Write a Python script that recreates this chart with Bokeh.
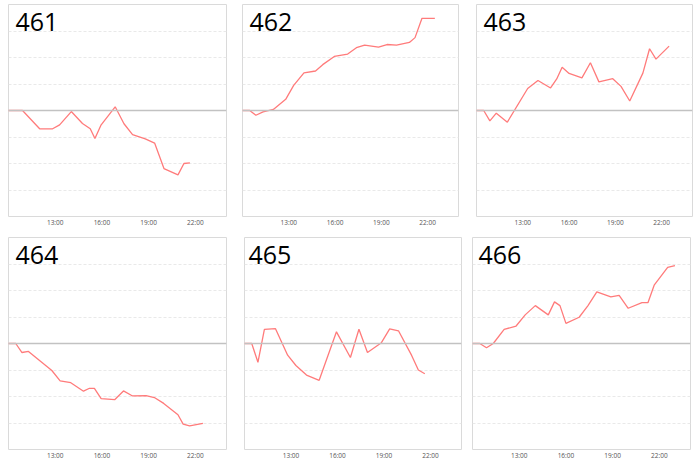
from bokeh.plotting import figure
from bokeh.layouts import row, column
from bokeh.models import Range1d, FixedTicker, Span, Label
from bokeh.embed import file_html
from bokeh.resources import INLINE

# ---------------- data ----------------
panel_names = ["461", "462", "463", "464", "465", "466"]

times_461 = ["10:00", "10:54", "12:00", "12:50", "13:17", "14:02", "14:45", "15:15", "15:33",
             "15:57", "16:51", "17:25", "17:58", "18:47", "19:23", "19:59", "20:53", "21:16", "21:39"]
values_461 = [0, 0, -0.69, -0.69, -0.54, -0.04, -0.49, -0.69, -1.06,
              -0.54, 0.14, -0.50, -0.91, -1.07, -1.23, -2.19, -2.43, -2.00, -1.98]

times_462 = ["10:00", "10:28", "10:52", "11:20", "12:00", "12:48", "13:19", "13:59", "14:44", "15:12",
             "15:57", "16:49", "17:23", "17:55", "18:49", "19:22", "19:59", "20:49", "21:11", "21:38", "22:28"]
values_462 = [0, 0, -0.18, -0.05, 0.04, 0.42, 0.95, 1.42, 1.49, 1.73,
              2.04, 2.13, 2.37, 2.47, 2.39, 2.49, 2.47, 2.57, 2.75, 3.48, 3.48]

times_463 = ["10:00", "10:28", "10:52", "11:17", "12:00", "13:19", "13:59", "14:48", "15:12", "15:33",
             "16:00", "16:50", "17:23", "17:56", "18:50", "19:22", "19:56", "20:47", "21:13", "21:38", "22:29"]
values_463 = [0, 0, -0.39, -0.10, -0.44, 0.83, 1.13, 0.85, 1.19, 1.63,
              1.40, 1.23, 1.80, 1.08, 1.20, 0.91, 0.36, 1.41, 2.33, 1.94, 2.43]

times_464 = ["10:00", "10:28", "10:52", "11:17", "12:02", "12:47", "13:19", "14:00", "14:49", "15:12", "15:31",
             "15:57", "16:49", "17:23", "17:58", "18:50", "19:22", "19:58", "20:53", "21:13", "21:38", "22:29"]
values_464 = [0, 0, -0.34, -0.30, -0.66, -1.02, -1.41, -1.48, -1.80, -1.69, -1.69,
              -2.08, -2.12, -1.79, -1.98, -1.97, -2.04, -2.26, -2.69, -3.04, -3.11, -3.01]

times_465 = ["10:00", "10:28", "10:52", "11:17", "12:00", "12:47", "13:19", "14:00", "14:49", "15:56",
             "16:50", "17:23", "17:56", "18:50", "19:22", "19:56", "20:47", "21:13", "21:38"]
values_465 = [0, 0, -0.71, 0.53, 0.56, -0.44, -0.83, -1.19, -1.39, 0.44,
              -0.53, 0.54, -0.34, 0.03, 0.55, 0.48, -0.45, -1.00, -1.14]

times_466 = ["10:00", "10:28", "10:54", "11:20", "12:02", "12:48", "13:23", "14:02", "14:52", "15:16", "15:37",
             "16:00", "16:51", "17:25", "17:59", "18:53", "19:25", "20:00", "20:53", "21:16", "21:40", "22:32", "23:00"]
values_466 = [0, 0, -0.16, 0, 0.53, 0.66, 1.08, 1.43, 1.08, 1.57, 1.43,
              0.76, 0.99, 1.43, 1.95, 1.76, 1.82, 1.33, 1.54, 1.54, 2.20, 2.87, 2.94]

tick_hours = [13, 16, 19, 22]
tick_labels = ["13:00", "16:00", "19:00", "22:00"]
grid_levels = [-3, -2, -1, 1, 2, 3]
x_start, x_end = 10, 24
y_start, y_end = -4, 4


def to_hours(t):
    h, m = t.split(":")
    return int(h) + int(m) / 60.0


FRAME_H = 212
TOP_B, BOT_B = 1, 13
FIG_H = TOP_B + FRAME_H + BOT_B


def make_panel(name, times, values, frame_w, margin, label_dx):
    p = figure(width=frame_w + 2, height=FIG_H,
               x_range=Range1d(x_start, x_end), y_range=Range1d(y_start, y_end),
               output_backend="svg", toolbar_location=None, y_axis_location=None,
               min_border_left=1, min_border_right=1, min_border_top=TOP_B, min_border_bottom=BOT_B,
               background_fill_color="white", border_fill_color="white",
               outline_line_color="#dadada", outline_line_width=1, margin=margin)
    p.xgrid.visible = False
    p.ygrid.ticker = FixedTicker(ticks=grid_levels)
    p.ygrid.grid_line_color = "#e9e9e9"
    p.ygrid.grid_line_dash = "3 2"
    p.ygrid.grid_line_width = 1

    ax = p.xaxis[0]
    ax.ticker = FixedTicker(ticks=tick_hours)
    ax.major_label_overrides = {h: lab for h, lab in zip(tick_hours, tick_labels)}
    ax.axis_line_color = None
    ax.major_tick_line_color = None
    ax.minor_tick_line_color = None
    ax.major_tick_out = 0
    ax.major_tick_in = 0
    ax.minor_tick_out = 0
    ax.minor_tick_in = 0
    ax.major_label_standoff = 1
    ax.major_label_text_font = "Open Sans"
    ax.major_label_text_font_size = "6.5px"
    ax.major_label_text_color = "#555555"

    p.add_layout(Span(location=0, dimension="width", line_color="#c2c2c2", line_width=1.5))
    p.line([to_hours(t) for t in times], values, line_color="#ff7b7b", line_width=1.3)

    p.add_layout(Label(x=label_dx, y=FIG_H - TOP_B - 30.5, x_units="screen", y_units="screen",
                       text=name, text_font="Open Sans", text_font_size="25px",
                       text_color="#000000", text_baseline="alphabetic", text_align="left"))
    return p


series = [(times_461, values_461), (times_462, values_462), (times_463, values_463),
          (times_464, values_464), (times_465, values_465), (times_466, values_466)]

frame_widths = [218, 216, 216, 218, 217, 218]
left_gaps = [0, 14, 16, 0, 16, 9]
label_dx = [7, 7, 7, 7, 4, 6]

panels = []
for i, (name, (ts, vs)) in enumerate(zip(panel_names, series)):
    panels.append(make_panel(name, ts, vs, frame_widths[i], (0, 0, 0, left_gaps[i]), label_dx[i]))

row1 = row(panels[0], panels[1], panels[2], margin=(0, 0, 0, 0))
row2 = row(panels[3], panels[4], panels[5], margin=(7, 0, 0, 0))
layout = column(row1, row2, margin=(3, 0, 0, 7))

open("out.html", "w").write(file_html(layout, INLINE))
